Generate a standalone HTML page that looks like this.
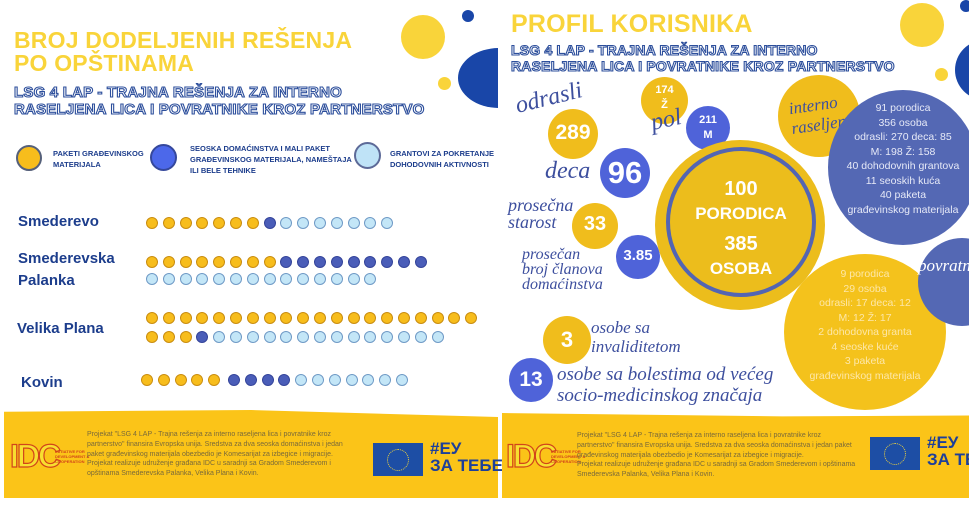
<!DOCTYPE html>
<html><head><meta charset="utf-8"><style>
*{margin:0;padding:0;box-sizing:border-box}
body{width:969px;height:528px;background:#fff;position:relative;overflow:hidden;font-family:"Liberation Sans",sans-serif}
.a{position:absolute}
.c{position:absolute;border-radius:50%}
.t{position:absolute;white-space:nowrap}
.title{color:#f9d43a;font-weight:900;font-size:23px;line-height:23px;letter-spacing:0.2px}
.sub{color:#fff;-webkit-text-stroke:1.1px #2d4f9c;font-weight:bold;font-size:15px;line-height:17px;letter-spacing:0.2px}
.lbl{color:#1c3d8c;font-weight:bold;font-size:15px}
.leg{color:#1c3d8c;font-weight:bold;font-size:7.5px;line-height:11px}
.d{position:absolute;width:12px;height:12px;border-radius:50%}
.Y{background:#f7bd1c;border:1px solid #c98d10}
.B{background:#4a5db8;border:1px solid #34449a}
.L{background:#c3e6f7;border:1px solid #6f9ac6}
.num{color:#fff;font-weight:bold;text-align:center}
.scr{font-family:"Liberation Serif",serif;font-style:italic;color:#3d4f9e}
.foot{color:#7a6a3a;font-size:7px;line-height:9.8px}
</style></head><body>
<div class="c" style="left:401px;top:15px;width:44px;height:44px;background:#f9d43a"></div>
<div class="c" style="left:462px;top:10px;width:12px;height:12px;background:#1946a8"></div>
<div class="c" style="left:438px;top:77px;width:13px;height:13px;background:#f9d43a"></div>
<div class="a" style="left:458px;top:48px;width:40px;height:60px;overflow:hidden"><div class="c" style="left:0;top:0;width:82px;height:60px;background:#1946a8"></div></div>
<div class="t title" style="left:14px;top:29px">BROJ DODELJENIH REŠENJA<br>PO OPŠTINAMA</div>
<div class="t sub" style="left:14px;top:84px">LSG 4 LAP - TRAJNA REŠENJA ZA INTERNO<br>RASELJENA LICA I POVRATNIKE KROZ PARTNERSTVO</div>
<div class="c" style="left:16px;top:145px;width:26px;height:26px;background:#f7bd1c;border:2px solid #55607a"></div>
<div class="t leg" style="left:53px;top:148px">PAKETI GRAĐEVINSKOG<br>MATERIJALA</div>
<div class="c" style="left:150px;top:144px;width:27px;height:27px;background:#4c68ea;border:2px solid #35489c"></div>
<div class="t leg" style="left:190px;top:143px">SEOSKA DOMAĆINSTVA I MALI PAKET<br>GRAĐEVINSKOG MATERIJALA, NAMEŠTAJA<br>ILI BELE TEHNIKE</div>
<div class="c" style="left:354px;top:142px;width:27px;height:27px;background:#bfe3f7;border:2px solid #5d6a98"></div>
<div class="t leg" style="left:390px;top:148px">GRANTOVI ZA POKRETANJE<br>DOHODOVNIH AKTIVNOSTI</div>
<div class="t lbl" style="left:18px;top:213px">Smederevo</div>
<div class="t lbl" style="left:18px;top:250px">Smederevska</div>
<div class="t lbl" style="left:18px;top:272px">Palanka</div>
<div class="t lbl" style="left:17px;top:320px">Velika Plana</div>
<div class="t lbl" style="left:21px;top:374px">Kovin</div>
<div id="dots"></div>
<div class="a" style="left:4px;top:410px;width:494px;height:88px;background:#fbc418;clip-path:polygon(0 2%,50% 0,100% 8%,100% 100%,0 100%)"></div>
<div class="t" style="left:10px;top:438px;font-size:32px;font-weight:bold;color:#f7df30;-webkit-text-stroke:1.2px #d2441a;letter-spacing:-2px">IDC</div>
<div class="t" style="left:55px;top:449px;font-size:4px;line-height:5px;color:#d2441a;font-weight:bold">INITIATIVE FOR<br>DEVELOPMENT &amp;<br>COOPERATION</div>
<div class="t foot" style="left:87px;top:430px">Projekat "LSG 4 LAP - Trajna rešenja za interno raseljena lica i povratnike kroz<br>partnerstvo" finansira Evropska unija. Sredstva za dva seoska domaćinstva i jedan<br>paket građevinskog materijala obezbedio je Komesarijat za izbegice i migracije.<br>Projekat realizuje udruženje građana IDC u saradnji sa Gradom Smederevom i<br>opštinama Smederevska Palanka, Velika Plana i Kovin.</div>
<div class="a" style="left:373px;top:443px;width:50px;height:33px;background:#1d4ea5"></div>
<div class="c" style="left:387px;top:449px;width:22px;height:22px;border:1.5px dotted #f3d53a"></div>
<div class="t" style="left:430px;top:440px;color:#1d3f9a;font-weight:900;font-size:17px;line-height:17px">#ЕУ<br>ЗА ТЕБЕ</div>

<div class="c" style="left:900px;top:3px;width:44px;height:44px;background:#f9d43a"></div>
<div class="c" style="left:960px;top:0px;width:12px;height:12px;background:#1946a8"></div>
<div class="c" style="left:935px;top:68px;width:13px;height:13px;background:#f9d43a"></div>
<div class="c" style="left:955px;top:40px;width:60px;height:60px;background:#1946a8"></div>
<div class="t title" style="left:511px;top:13px;font-size:25px">PROFIL KORISNIKA</div>
<div class="t sub" style="left:511px;top:42px;font-size:14px;line-height:16px">LSG 4 LAP - TRAJNA REŠENJA ZA INTERNO<br>RASELJENA LICA I POVRATNIKE KROZ PARTNERSTVO</div>

<div class="c" style="left:641px;top:77px;width:47px;height:47px;background:#f0bd1c"></div>
<div class="t num" style="left:641px;top:83px;width:47px;font-size:11px;line-height:15px">174<br>Ž</div>
<div class="c" style="left:686px;top:106px;width:44px;height:44px;background:#4f63d9"></div>
<div class="t num" style="left:686px;top:113px;width:44px;font-size:11px;line-height:15px">211<br>M</div>
<div class="c" style="left:548px;top:109px;width:50px;height:50px;background:#f0bd1c"></div>
<div class="t num" style="left:548px;top:121px;width:50px;font-size:21px">289</div>
<div class="c" style="left:600px;top:148px;width:50px;height:50px;background:#4f63d9"></div>
<div class="t num" style="left:597px;top:155px;width:56px;font-size:31px">96</div>
<div class="c" style="left:572px;top:203px;width:46px;height:46px;background:#f0bd1c"></div>
<div class="t num" style="left:572px;top:213px;width:46px;font-size:20px">33</div>
<div class="c" style="left:616px;top:235px;width:44px;height:44px;background:#4f63d9"></div>
<div class="t num" style="left:616px;top:247px;width:44px;font-size:15px">3.85</div>
<div class="c" style="left:543px;top:316px;width:48px;height:48px;background:#f0bd1c"></div>
<div class="t num" style="left:543px;top:327px;width:48px;font-size:22px">3</div>
<div class="c" style="left:509px;top:358px;width:44px;height:44px;background:#4f63d9"></div>
<div class="t num" style="left:509px;top:368px;width:44px;font-size:21px">13</div>

<div class="c" style="left:655px;top:140px;width:170px;height:170px;background:#ecbd1c"></div>
<div class="c" style="left:666px;top:147px;width:150px;height:150px;border:4px solid #5365b2"></div>
<div class="t num" style="left:666px;top:177px;width:150px;font-size:20px;line-height:24px">100<br><span style="font-size:17px">PORODICA</span></div>
<div class="t num" style="left:666px;top:232px;width:150px;font-size:20px;line-height:24px">385<br><span style="font-size:17px">OSOBA</span></div>

<div class="c" style="left:778px;top:75px;width:82px;height:82px;background:#f0bd1c"></div>
<div class="t scr" style="left:790px;top:95px;font-size:17px;line-height:20px;transform:rotate(-8deg)">interno<br>raseljeni</div>
<div class="c" style="left:828px;top:90px;width:150px;height:155px;background:#5468b4"></div>
<div class="t" style="left:828px;top:101px;width:150px;text-align:center;color:#e6e9f7;font-size:10.5px;line-height:14.5px">91 porodica<br>356 osoba<br>odrasli: 270 deca: 85<br>M: 198 Ž: 158<br>40 dohodovnih grantova<br>11 seoskih kuća<br>40 paketa<br>građevinskog materijala</div>
<div class="c" style="left:784px;top:254px;width:162px;height:156px;background:#f4c21c"></div>
<div class="t" style="left:784px;top:267px;width:162px;text-align:center;color:#fde7a8;font-size:10.5px;line-height:14.5px">9 porodica<br>29 osoba<br>odrasli: 17 deca: 12<br>M: 12 Ž: 17<br>2 dohodovna granta<br>4 seoske kuće<br>3 paketa<br>građevinskog materijala</div>
<div class="c" style="left:918px;top:238px;width:88px;height:88px;background:#5468b4"></div>
<div class="t scr" style="left:918px;top:256px;font-size:17px;color:#fff">povratn</div>

<div class="t scr" style="left:515px;top:85px;font-size:24px;transform:rotate(-14deg)">odrasli</div>
<div class="t scr" style="left:651px;top:107px;font-size:24px;transform:rotate(-12deg)">pol</div>
<div class="t scr" style="left:545px;top:158px;font-size:24px">deca</div>
<div class="t scr" style="left:508px;top:197px;font-size:18px;line-height:17px">prosečna<br>starost</div>
<div class="t scr" style="left:522px;top:247px;font-size:16px;line-height:15px">prosečan<br>broj članova<br>domaćinstva</div>
<div class="t scr" style="left:591px;top:318px;font-size:17px;line-height:19px">osobe sa<br>invaliditetom</div>
<div class="t scr" style="left:557px;top:364px;font-size:19px;line-height:21px">osobe sa bolestima od većeg<br>socio-medicinskog značaja</div>

<div class="a" style="left:502px;top:413px;width:467px;height:85px;background:#fbc418;clip-path:polygon(0 0,60% 4%,100% 3%,100% 100%,0 100%)"></div>
<div class="t" style="left:506px;top:438px;font-size:32px;font-weight:bold;color:#f7df30;-webkit-text-stroke:1.2px #d2441a;letter-spacing:-2px">IDC</div>
<div class="t" style="left:551px;top:449px;font-size:4px;line-height:5px;color:#d2441a;font-weight:bold">INITIATIVE FOR<br>DEVELOPMENT &amp;<br>COOPERATION</div>
<div class="t foot" style="left:577px;top:431px">Projekat "LSG 4 LAP - Trajna rešenja za interno raseljena lica i povratnike kroz<br>partnerstvo" finansira Evropska unija. Sredstva za dva seoska domaćinstva i jedan paket<br>građevinskog materijala obezbedio je Komesarijat za izbegice i migracije.<br>Projekat realizuje udruženje građana IDC u saradnji sa Gradom Smederevom i opštinama<br>Smederevska Palanka, Velika Plana i Kovin.</div>
<div class="a" style="left:870px;top:437px;width:50px;height:33px;background:#1d4ea5"></div>
<div class="c" style="left:884px;top:443px;width:22px;height:22px;border:1.5px dotted #f3d53a"></div>
<div class="t" style="left:927px;top:434px;color:#1d3f9a;font-weight:900;font-size:17px;line-height:17px">#ЕУ<br>ЗА ТЕБЕ</div>

<script>
var rows=[[152,217,"YYYYYYYBLLLLLLL"],[152,256,"YYYYYYYYBBBBBBBBB"],[152,273,"LLLLLLLLLLLLLL"],[152,312,"YYYYYYYYYYYYYYYYYYYY"],[152,331,"YYYBLLLLLLLLLLLLLL"],[147,374,"YYYYY BBBBLLLLLLL"]];
var h="";rows.forEach(function(r){var x=r[0];for(var i=0;i<r[2].length;i++){var c=r[2][i];if(c!=" ")h+='<div class="d '+c+'" style="left:'+(x-6)+'px;top:'+r[1]+'px"></div>';x+=(c==" "?3:16.8);}});
document.getElementById("dots").innerHTML=h;
</script>
</body></html>
